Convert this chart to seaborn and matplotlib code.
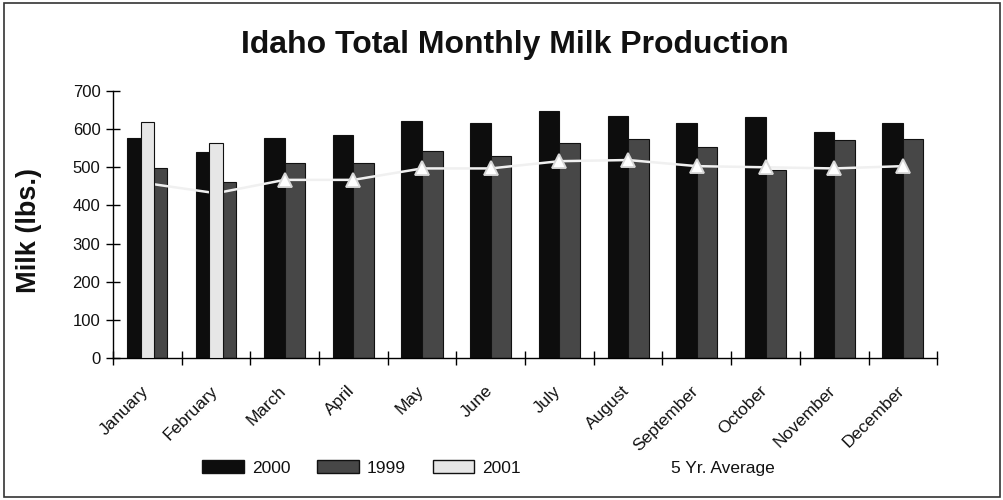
import matplotlib
matplotlib.use("Agg")
import matplotlib.pyplot as plt
from matplotlib.patches import Patch, Rectangle
from matplotlib.lines import Line2D
import matplotlib.transforms as mtransforms
import seaborn as sns
import pandas as pd
import numpy as np

months = ["January", "February", "March", "April", "May", "June", "July",
          "August", "September", "October", "November", "December"]
y2000 = [576, 539, 576, 584, 621, 617, 648, 635, 615, 631, 593, 615]
y1999 = [497, 461, 510, 510, 543, 530, 564, 574, 554, 493, 571, 573]
y2001 = [619, 564]  # January, February only
avg5 = [458, 432, 467, 467, 497, 497, 516, 519, 503, 500, 497, 503]

sns.set_theme(style="white")
plt.rcParams['font.family'] = ['Liberation Sans', 'DejaVu Sans']
plt.rcParams['text.color'] = '#111111'
plt.rcParams['axes.labelcolor'] = '#111111'
plt.rcParams['xtick.color'] = '#111111'
plt.rcParams['ytick.color'] = '#111111'

C2000, C1999, C2001 = "#0d0d0d", "#474747", "#e6e6e6"

rows_a, rows_b = [], []
for i, m in enumerate(months):
    if i < len(y2001):
        rows_a += [(m, "2000", y2000[i]), (m, "2001", y2001[i]), (m, "1999", y1999[i])]
    else:
        rows_b += [(m, "2000", y2000[i]), (m, "1999", y1999[i])]
dfa = pd.DataFrame(rows_a, columns=["month", "series", "value"])
dfb = pd.DataFrame(rows_b, columns=["month", "series", "value"])
dfl = pd.DataFrame({"month": months, "avg": avg5})

fig = plt.figure(figsize=(10.04, 5.0), dpi=100)
fig.patch.set_facecolor("white")
ax = fig.add_axes([0.1125, 0.284, 0.821, 0.534])

pal = {"2000": C2000, "1999": C1999, "2001": C2001}
sns.barplot(data=dfa, x="month", y="value", hue="series", order=months,
            hue_order=["2000", "2001", "1999"], palette=pal, width=0.58,
            saturation=1, edgecolor="#111111", linewidth=0.8, legend=False, ax=ax)
sns.barplot(data=dfb, x="month", y="value", hue="series", order=months,
            hue_order=["2000", "1999"], palette=pal, width=0.6,
            saturation=1, edgecolor="#111111", linewidth=0.8, legend=False, ax=ax)

for p in ax.patches:
    fc = p.get_facecolor()
    if fc[0] > 0.8:
        p.set_zorder(4)
    else:
        p.set_zorder(2)

n_before_lines = len(ax.lines)
n_before_coll = len(ax.collections)
sns.pointplot(data=dfl, x="month", y="avg", order=months, color="#f0f0f0",
              markers="^", markersize=10.5, linewidth=1.8, ax=ax)
for ln in ax.lines[n_before_lines:]:
    ln.set_zorder(3)
    ln.set_markeredgecolor("#d8d8d8")
    ln.set_markerfacecolor("white")
    ln.set_markevery(list(range(len(y2001), len(months))))
for c in ax.collections[n_before_coll:]:
    c.set_zorder(3)

ax.set_xlim(-0.5, 11.5)
ax.set_ylim(0, 700)
ax.set_yticks(np.arange(0, 701, 100))
ax.set_xticks(np.arange(len(months)))
ax.set_xticklabels(months, rotation=45, ha="right", rotation_mode="anchor", fontsize=12.5)
ax.tick_params(axis="x", length=0, pad=18)
offset = mtransforms.ScaledTranslation(-6 / 100, 0, fig.dpi_scale_trans)
for lab in ax.get_xticklabels():
    lab.set_transform(lab.get_transform() + offset)
ax.tick_params(axis="y", length=10, width=1, color="black", direction="inout",
               labelsize=12, left=True, pad=4)
ax.set_xticks(np.arange(-0.5, 12.0, 1.0), minor=True)
ax.tick_params(axis="x", which="minor", length=10, width=1, color="black",
               direction="inout", bottom=True)

for s in ["top", "right"]:
    ax.spines[s].set_visible(False)
for s in ["left", "bottom"]:
    ax.spines[s].set_color("black")
    ax.spines[s].set_linewidth(1.0)
ax.set_xlabel("")
ax.set_ylabel("Milk (lbs.)", fontsize=19.5, fontweight="bold")
ax.yaxis.set_label_coords(-0.086, 0.476)
ax.set_facecolor("white")

fig.text(0.513, 0.91, "Idaho Total Monthly Milk Production", ha="center", va="center",
         fontsize=23, fontweight="bold")

handles = [Patch(facecolor=C2000, edgecolor="#111111"),
           Patch(facecolor=C1999, edgecolor="#111111"),
           Patch(facecolor=C2001, edgecolor="#111111")]
labels = ["2000", "1999", "2001"]
leg1 = fig.legend(handles, labels, loc="center", bbox_to_anchor=(0.36, 0.064), ncol=3,
                  frameon=False, fontsize=12.5, handlelength=2.4, handleheight=0.8,
                  columnspacing=1.55, handletextpad=0.45)
leg2 = fig.legend([Line2D([], [], color="white", marker="^", markerfacecolor="white",
                          markeredgecolor="white", linewidth=2)],
                  ["5 Yr. Average"], loc="center", bbox_to_anchor=(0.695, 0.064),
                  frameon=False, fontsize=12.5, handlelength=2.4, handletextpad=0.45)

fig.add_artist(Rectangle((0.004, 0.006), 0.992, 0.988, transform=fig.transFigure,
                         fill=False, edgecolor="#333333", linewidth=1.2))

fig.savefig("out.png", dpi=100)
